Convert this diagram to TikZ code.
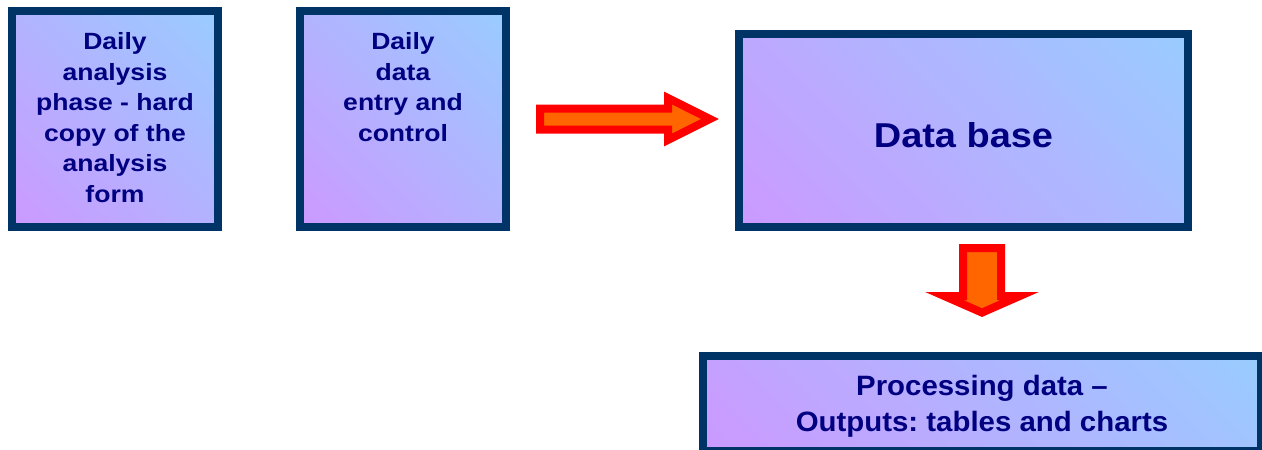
\documentclass[tikz,border=0pt]{standalone}
\usepackage{fontspec}
\setmainfont{Liberation Sans}
\newfontfamily\fsmall{Liberation Sans}[FakeStretch=1.13]
\newfontfamily\fdb{Liberation Sans}[FakeStretch=1.1]
\newfontfamily\fproc{Liberation Sans}[FakeStretch=1.05]
\definecolor{boxborder}{HTML}{003366}
\definecolor{boxblue}{HTML}{99CCFF}
\definecolor{boxpurple}{HTML}{CC99FF}
\definecolor{navytext}{HTML}{000080}
\definecolor{arroworange}{HTML}{FF6600}
\definecolor{arrowred}{HTML}{FF0000}
\pgfdeclareverticalshading{boxdiag}{100bp}{color(0bp)=(boxpurple); color(14.64bp)=(boxpurple);
  color(85.36bp)=(boxblue); color(100bp)=(boxblue)}
\frenchspacing
\begin{document}
\begin{tikzpicture}[x=1pt,y=-1pt,
  box/.style={draw=boxborder, line width=8pt, shade, shading=boxdiag,
    shading angle=-45, inner sep=0pt, text=navytext},
  blockarrow/.style={draw=arrowred, fill=arroworange, line width=8pt, line join=miter}]
\fill[white] (0,0) rectangle (1262,450);
\useasboundingbox (0,0) rectangle (1262,450);
\clip (0,0) rectangle (1262,450);

\node[box, minimum width=206pt, minimum height=216pt] (b1) at (115,119)
  {\parbox[c][173pt][t]{200pt}{\centering\fsmall\bfseries\fontsize{23.5}{30.5}\selectfont
   Daily\\analysis\\phase - hard\\copy of the\\analysis\\form}};

\node[box, minimum width=206pt, minimum height=216pt] (b2) at (403,119)
  {\parbox[c][173pt][t]{200pt}{\centering\fsmall\bfseries\fontsize{23.5}{30.5}\selectfont
   Daily\\data\\entry and\\control}};

\node[box, minimum width=449pt, minimum height=193pt, text height=33.6pt, text depth=0pt,
  font=\fdb\bfseries\fontsize{34.5}{40}\selectfont] (db) at (963.5,130.5) {Data base};

\node[box, minimum width=558pt, minimum height=95pt, align=center,
  font=\fproc\bfseries\fontsize{28}{36}\selectfont] (proc) at (982,403.5)
  {\rule{0pt}{26pt}Processing data –\\Outputs: tables and charts};

% right block arrow from b2 towards db
\begin{scope}[shift={(b2.east)}]
\draw[blockarrow] (30,-10.5) -- (158,-10.5) -- (158,-21) -- (200,0) -- (158,21)
  -- (158,10.5) -- (30,10.5) -- cycle;
\end{scope}

% down block arrow from db towards proc
\begin{scope}[shift={(proc.north)}]
\draw[blockarrow] (-19,-104) -- (19,-104) -- (19,-56) -- (37.8,-56) -- (0,-39.4)
  -- (-37.8,-56) -- (-19,-56) -- cycle;
\end{scope}
\end{tikzpicture}
\end{document}
